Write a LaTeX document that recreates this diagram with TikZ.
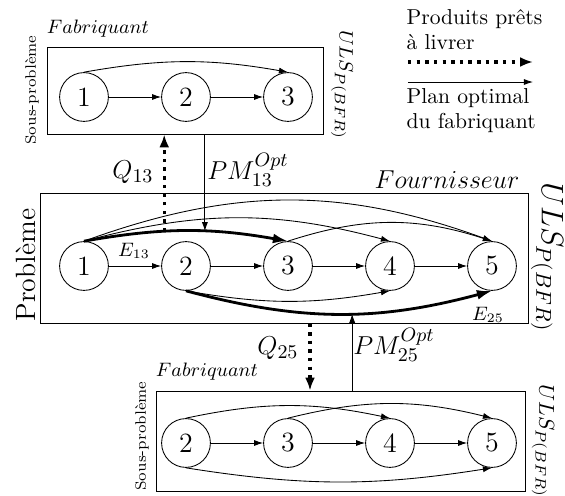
\documentclass[tikz,border=0pt]{standalone}
\usepackage{fontspec}
\usetikzlibrary{arrows.meta,fit}

\begin{document}
\begin{tikzpicture}[x=0.463pt, y=-0.463pt,
    etat/.style={circle, draw, minimum size=22.6pt, inner sep=0pt, font=\fontsize{12.9}{15}\selectfont},
    boite/.style={draw, inner sep=0pt},
    fleche/.style={-{Latex[length=4.2pt,width=2.8pt]}},
    optimal/.style={line width=1.3pt, -{Latex[length=7pt,width=4.6pt]}},
    livraison/.style={line width=1.5pt, dash pattern=on 1.6pt off 2.4pt, -{Latex[length=6pt,width=4.6pt]}},
    grand/.style={font=\fontsize{12.9}{15}\selectfont},
    moyen/.style={font=\fontsize{12.3}{14}\selectfont}]
    \useasboundingbox (0,0) rectangle (565,496);

    % Boites
    \node[boite, fit={(47,47) (323,134)}] (haut) {};
    \node[boite, fit={(40,193) (528,323)}] (milieu) {};
    \node[boite, fit={(156,391) (525,491)}] (bas) {};

    % Sous-probleme du haut
    \foreach \i/\x in {1/84,2/186,3/288}
        \node[etat] (h\i) at (\x,97) {\i};
    \draw[fleche] (h1) -- (h2);
    \draw[fleche] (h2) -- (h3);
    \draw[fleche] (h1.north) to[bend left=10] (h3.north);

    % Probleme
    \foreach \i/\x in {1/84,2/186,3/288,4/390,5/492}
        \node[etat] (m\i) at (\x,266) {\i};
    \foreach \a/\b in {1/2,2/3,3/4,4/5}
        \draw[fleche] (m\a) -- (m\b);
    \draw[fleche] (m1.north) to[bend left=20] (m5.north);
    \draw[fleche] (m1.north) to[bend left=15] (m4.north);
    \draw[fleche] (m3.north) to[bend left=18] (m5.north);
    \draw[fleche] (m2.south) to[bend right=10] (m4.south);
    \draw[optimal] (m1.north) to[bend left=10] coordinate[pos=0.385] (q13) coordinate[pos=0.6] (pm13) (m3.north);
    \draw[optimal] (m2.south) to[bend right=15] coordinate[pos=0.546] (pm25) (m5.south);
    \node[font=\small] (e13) at (134,251) {$E_{13}$};
    \node[font=\small] (e25) at (488,315) {$E_{25}$};

    % Sous-probleme du bas
    \foreach \i/\x in {2/186,3/288,4/390,5/492}
        \node[etat] (b\i) at (\x,443) {\i};
    \foreach \a/\b in {2/3,3/4,4/5}
        \draw[fleche] (b\a) -- (b\b);
    \draw[fleche] (b2.north) to[bend left=12] (b4.north);
    \draw[fleche] (b3.north) to[bend left=14] (b5.north);
    \draw[fleche] (b2.south) to[bend right=9] (b5.south);

    % Echanges
    \coordinate (q25) at (310,0);
    \draw[livraison] (q13) -- (q13 |- haut.south);
    \draw[fleche] (pm13 |- haut.south) -- (pm13);
    \draw[livraison] (q25 |- milieu.south) -- (q25 |- bas.north);
    \draw[fleche] (pm25 |- bas.north) -- (pm25);
    \node[moyen] (lq13) at (133,172) {$Q_{13}$};
    \node[moyen] (lpm13) at (248,170) {$PM^{Opt}_{13}$};
    \node[moyen] (lq25) at (278,348) {$Q_{25}$};
    \node[moyen] (lpm25) at (394,345) {$PM^{Opt}_{25}$};

    % Titres
    \node[grand] (fourn) at (447,180) {$Fournisseur$};
    \node[font=\small] (fab1) at (98,29) {$Fabriquant$};
    \node[font=\small] (fab2) at (207,372) {$Fabriquant$};
    \node[rotate=90, font=\fontsize{7}{8}\selectfont] (sp1) at (32,90) {Sous-problème};
    \node[rotate=90, font=\fontsize{7}{8}\selectfont] (sp2) at (142,436) {Sous-problème};
    \node[rotate=90, grand] (pb) at (26,265) {Problème};
    \node[rotate=-90, font=\fontsize{9.3}{11}\selectfont] (uls1) at (342,85) {$ULS_{P(BFR)}$};
    \node[rotate=-90, font=\fontsize{13.8}{16}\selectfont] (uls2) at (547,257) {$ULS_{P(BFR)}$};
    \node[rotate=-90, font=\fontsize{10}{12}\selectfont] (uls3) at (543,441) {$ULS_{P(BFR)}$};

    % Legende
    \node[align=left, anchor=west, font=\fontsize{10}{11.5}\selectfont] (lgliv) at (399,30) {Produits prêts\\à livrer};
    \node[align=left, anchor=west, font=\fontsize{10}{11.5}\selectfont] (lgplan) at (399,111) {Plan optimal\\du fabriquant};
    \coordinate (lg1a) at (408,62);
    \coordinate (lg1b) at (533,62);
    \coordinate (lg2a) at (408,82);
    \coordinate (lg2b) at (533,82);
    \draw[livraison] (lg1a) -- (lg1b);
    \draw[fleche] (lg2a) -- (lg2b);
\end{tikzpicture}
\end{document}
